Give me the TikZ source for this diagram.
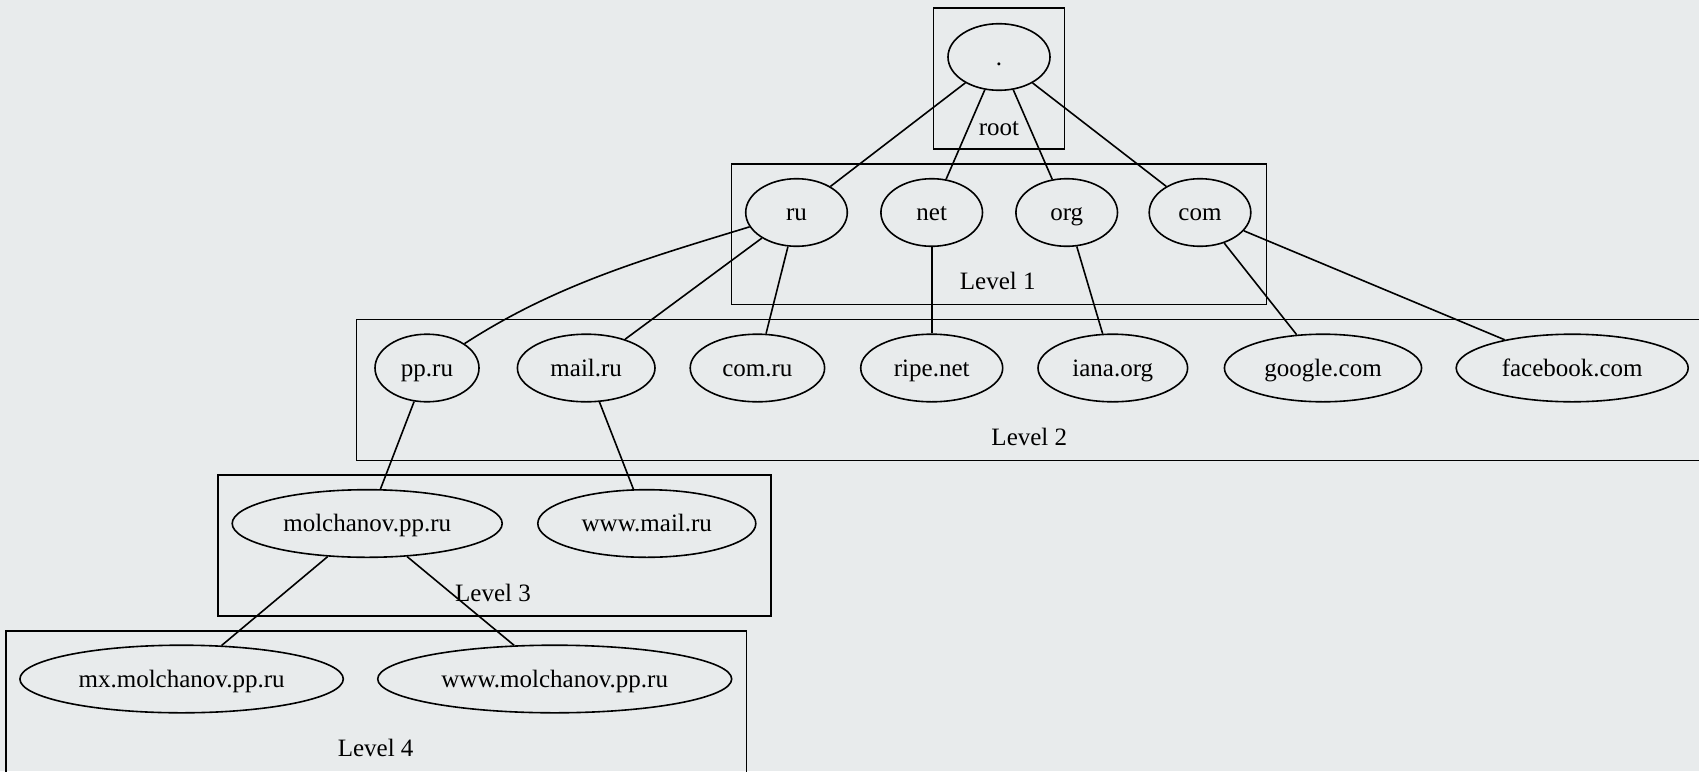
\documentclass[tikz,border=0pt]{standalone}
\usepackage{fontspec}
\setmainfont{Liberation Serif}
\usetikzlibrary{shapes.geometric}
\definecolor{bgc}{RGB}{232,235,236}
\tikzset{
  nd/.style={ellipse, draw, line width=1.6pt, inner sep=0pt, minimum height=67.6pt, text height=16.5pt, text depth=0pt, font=\fontsize{25}{30}\selectfont},
  lbl/.style={inner sep=0pt, text height=16.5pt, text depth=0pt, font=\fontsize{25}{30}\selectfont},
  cluster/.style={draw, line width=1.6pt},
  edge/.style={line width=1.6pt}
}
\begin{document}
\begin{tikzpicture}[x=1pt,y=-1pt]
\fill[bgc] (0,0) rectangle (1699,771);
\useasboundingbox (0,0) rectangle (1699,771);
\clip (0,0) rectangle (1699,771);
% clusters
\draw[cluster] (933.5,7.7) rectangle (1064.3,148.7);
\draw[cluster] (731.4,163.7) rectangle (1266.6,304.4);
\draw[cluster] (356.5,319.5) rectangle (1710,460.5);
\draw[cluster] (217.9,475) rectangle (771,615.8);
\draw[cluster] (6,631) rectangle (746.3,790);
% cluster labels
\node[lbl] (lroot) at (999,127.7) {root};
\node[lbl] (l1) at (997.7,281.7) {Level 1};
\node[lbl] (l2) at (1029.3,437.7) {Level 2};
\node[lbl] (l3) at (493,593.5) {Level 3};
\node[lbl] (l4) at (375.6,748.3) {Level 4};
% nodes
\node[nd, minimum width=102pt, minimum height=66.6pt] (root) at (999,57) {.};
\node[nd, minimum width=101.6pt] (ru) at (796.5,212.5) {ru};
\node[nd, minimum width=101.6pt] (net) at (931.7,212.5) {net};
\node[nd, minimum width=101.6pt] (org) at (1066.7,212.5) {org};
\node[nd, minimum width=101.6pt] (com) at (1200,212.5) {com};
\node[nd, minimum width=104pt] (pp) at (427,368) {pp.ru};
\node[nd, minimum width=137.6pt] (mail) at (586.2,368) {mail.ru};
\node[nd, minimum width=134.4pt] (comru) at (757.4,368) {com.ru};
\node[nd, minimum width=142pt] (ripe) at (931.7,368) {ripe.net};
\node[nd, minimum width=149.6pt] (iana) at (1112.8,368) {iana.org};
\node[nd, minimum width=197.2pt] (google) at (1323,368) {google.com};
\node[nd, minimum width=232pt] (fb) at (1572.2,368) {facebook.com};
\node[nd, minimum width=270pt] (molch) at (367.2,523.5) {molchanov.pp.ru};
\node[nd, minimum width=218pt] (wmail) at (646.8,523.5) {www.mail.ru};
\node[nd, minimum width=323.4pt] (mx) at (181.6,679) {mx.molchanov.pp.ru};
\node[nd, minimum width=354pt] (wmolch) at (554.7,679) {www.molchanov.pp.ru};
% edges
\draw[edge] (root) -- (ru);
\draw[edge] (root) -- (net);
\draw[edge] (root) -- (org);
\draw[edge] (root) -- (com);
\draw[edge] (ru) to[out=197,in=33,looseness=0.9] (pp);
\draw[edge] (ru) -- (mail);
\draw[edge] (ru) -- (comru);
\draw[edge] (net) -- (ripe);
\draw[edge] (org) -- (iana);
\draw[edge] (com) -- (google);
\draw[edge] (com) -- (fb);
\draw[edge] (pp) -- (molch);
\draw[edge] (mail) -- (wmail);
\draw[edge] (molch) -- (mx);
\draw[edge] (molch) -- (wmolch);
\end{tikzpicture}
\end{document}
